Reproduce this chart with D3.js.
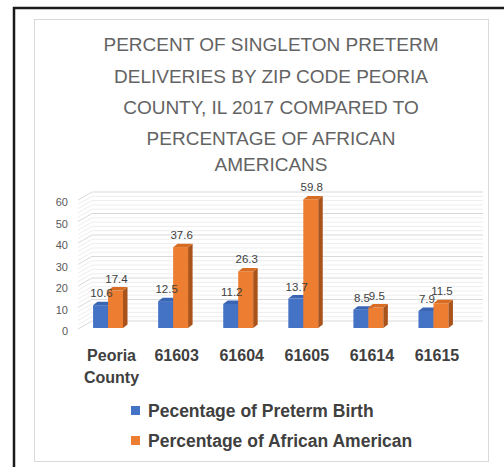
<!DOCTYPE html>
<html>
<head>
<meta charset="utf-8">
<script src="https://cdn.jsdelivr.net/npm/d3@7"></script>
<style>
  html, body { margin: 0; padding: 0; background: #fff; }
  svg { display: block; }
  text { font-family: "Liberation Sans", Arial, sans-serif; }
</style>
</head>
<body>
<svg id="chart" width="504" height="467"></svg>
<script>
const titleLines = [
  "PERCENT OF SINGLETON PRETERM",
  "DELIVERIES BY ZIP CODE PEORIA",
  "COUNTY, IL 2017 COMPARED TO",
  "PERCENTAGE OF AFRICAN",
  "AMERICANS"
];
const categories = ["Peoria County", "61603", "61604", "61605", "61614", "61615"];
const pretermBirth = [10.6, 12.5, 11.2, 13.7, 8.5, 7.9];
const africanAmerican = [17.4, 37.6, 26.3, 59.8, 9.5, 11.5];
const seriesNames = ["Pecentage of Preterm Birth", "Percentage of African American"];
const yTicks = [0, 10, 20, 30, 40, 50, 60];

const seriesValues = [pretermBirth, africanAmerican];
const colors = [
  { front: "#4472c4", side: "#2c5193", top: "#3a65b5" },
  { front: "#ed7d31", side: "#a9521a", top: "#d86c22" }
];

const svg = d3.select("#chart");

// outer black frame and inner chart panel
svg.append("rect").attr("x", 14).attr("y", 8).attr("width", 600).attr("height", 600)
  .attr("fill", "#fff").attr("stroke", "#1a1a1a").attr("stroke-width", 2.5);
svg.append("rect").attr("x", 34.5).attr("y", 19.5).attr("width", 454).attr("height", 442)
  .attr("fill", "#fff").attr("stroke", "#d9d9d9").attr("stroke-width", 1);

// title
const title = svg.append("g");
const titleY = [51, 83, 114, 145, 171];
titleLines.forEach((t, i) => {
  title.append("text").attr("x", 271).attr("y", titleY[i])
    .attr("text-anchor", "middle").attr("font-size", 19)
    .attr("fill", "#636363").text(t);
});

// scales
const x = d3.scaleBand().domain(categories).range([75.5, 466]);
const x1 = d3.scaleBand().domain([0, 1])
  .range([x.bandwidth() * 0.27, x.bandwidth() * 0.73]);
const y = d3.scaleLinear().domain([0, 60]).range([328, 199]);

const depthX = 14, depthY = 8;   // wall depth
const frontLeft = 78, backRight = 483;

// gridlines (minor then major)
const grid = svg.append("g");
const minor = d3.range(0, 61, 2).filter(v => v % 10 !== 0);
grid.selectAll("path.minor").data(minor).join("path")
  .attr("class", "minor")
  .attr("d", v => `M${frontLeft},${y(v) + 1}L${frontLeft + depthX},${y(v) + 1 - depthY}L${backRight},${y(v) + 1 - depthY}`)
  .attr("fill", "none").attr("stroke", "#eeeeee").attr("stroke-width", 1);
grid.selectAll("path.major").data(yTicks).join("path")
  .attr("class", "major")
  .attr("d", v => `M${frontLeft},${y(v) + 1}L${frontLeft + depthX},${y(v) + 1 - depthY}L${backRight},${y(v) + 1 - depthY}`)
  .attr("fill", "none").attr("stroke", "#d9d9d9").attr("stroke-width", 1);

// y axis labels
const yAxis = svg.append("g").attr("transform", "translate(70,3)")
  .call(d3.axisLeft(y).tickValues(yTicks).tickSize(0).tickPadding(2));
yAxis.select(".domain").remove();
yAxis.selectAll("text").attr("font-family", "Liberation Sans, Arial, sans-serif")
  .attr("font-size", 11).attr("fill", "#595959");

// 3D bars
const bdx = 4.5, bdy = 3.5;
const bars = svg.append("g");
const labels = svg.append("g");
categories.forEach((c, ci) => {
  seriesValues.forEach((vals, si) => {
    const v = vals[ci];
    const x0 = x(c) + x1(si);
    const w = x1.bandwidth();
    const top = y(v), bottom = y(0);
    const col = colors[si];
    bars.append("rect").attr("x", x0).attr("y", top).attr("width", w).attr("height", bottom - top)
      .attr("fill", col.front);
    bars.append("path")
      .attr("d", `M${x0 + w},${top}L${x0 + w + bdx},${top - bdy}L${x0 + w + bdx},${bottom - bdy}L${x0 + w},${bottom}Z`)
      .attr("fill", col.side);
    bars.append("path")
      .attr("d", `M${x0},${top}L${x0 + w},${top}L${x0 + w + bdx},${top - bdy}L${x0 + bdx},${top - bdy}Z`)
      .attr("fill", col.top);
    labels.append("text").attr("x", x0 + w / 2 + 1).attr("y", top - 8)
      .attr("text-anchor", "middle").attr("font-size", 11.5).attr("fill", "#404040")
      .text(v);
  });
});

// category labels
const cat = svg.append("g");
categories.forEach(c => {
  const t = cat.append("text").attr("x", x(c) + x.bandwidth() / 2 + 3.5).attr("y", 361)
    .attr("text-anchor", "middle").attr("font-size", 16).attr("font-weight", "bold")
    .attr("fill", "#404040");
  const parts = c.split(" ");
  if (parts.length > 1 && isNaN(+c)) {
    parts.forEach((p, i) => {
      t.append("tspan").attr("x", x(c) + x.bandwidth() / 2 + 3.5).attr("dy", i === 0 ? 0 : 22).text(p);
    });
  } else {
    t.text(c);
  }
});

// legend
const legend = svg.append("g");
const legendY = [406, 436];
seriesNames.forEach((n, i) => {
  legend.append("rect").attr("x", 131).attr("y", legendY[i]).attr("width", 9).attr("height", 9)
    .attr("fill", colors[i].front);
  legend.append("text").attr("x", 148).attr("y", legendY[i] + 11)
    .attr("font-size", 17.5).attr("font-weight", "bold").attr("fill", "#404040").text(n);
});
</script>
</body>
</html>
